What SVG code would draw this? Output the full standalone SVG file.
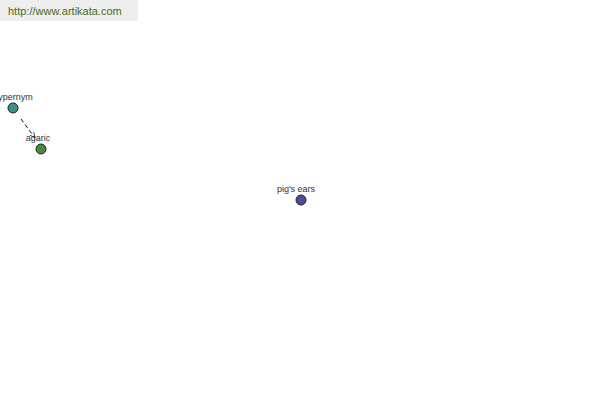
<svg xmlns="http://www.w3.org/2000/svg" width="600" height="400" viewBox="0 0 600 400">
<style>
.lbl{font-family:"Liberation Sans",Arial,sans-serif;font-size:9px;fill:#333;text-anchor:middle}
.node{stroke:#222;stroke-width:1}
.edge{stroke:#111;stroke-width:1;stroke-dasharray:4,3;fill:none}
</style>
<defs>
<marker id="arr" viewBox="0 0 10 10" refX="9" refY="5" markerWidth="6" markerHeight="6" orient="auto" markerUnits="userSpaceOnUse">
<path d="M0,1 L9,5 L0,9" fill="none" stroke="#111" stroke-width="1.2"/>
</marker>
</defs>
<rect width="600" height="400" fill="#fff"/>
<g id="header">
<rect x="0" y="0" width="138" height="21" fill="#eeeeee"/>
<text x="8" y="15" font-family="'Liberation Sans',Arial,sans-serif" font-size="11" fill="#4a6a22">http://www.artikata.com</text>
</g>
<g id="connectors">
<line class="edge" x1="21" y1="119" x2="35" y2="138" marker-end="url(#arr)"/>
</g>
<g id="hypernym">
<circle class="node" cx="13" cy="108" r="5" fill="#3e8c8c"/>
<text class="lbl" x="13" y="100">hypernym</text>
</g>
<g id="agaric">
<circle class="node" cx="41" cy="149" r="5" fill="#4a8a3e"/>
<text class="lbl" x="38" y="141">agaric</text>
</g>
<g id="pigs-ears">
<circle class="node" cx="301" cy="200" r="5" fill="#4a4e9a"/>
<text class="lbl" x="296" y="192">pig's ears</text>
</g>
</svg>
